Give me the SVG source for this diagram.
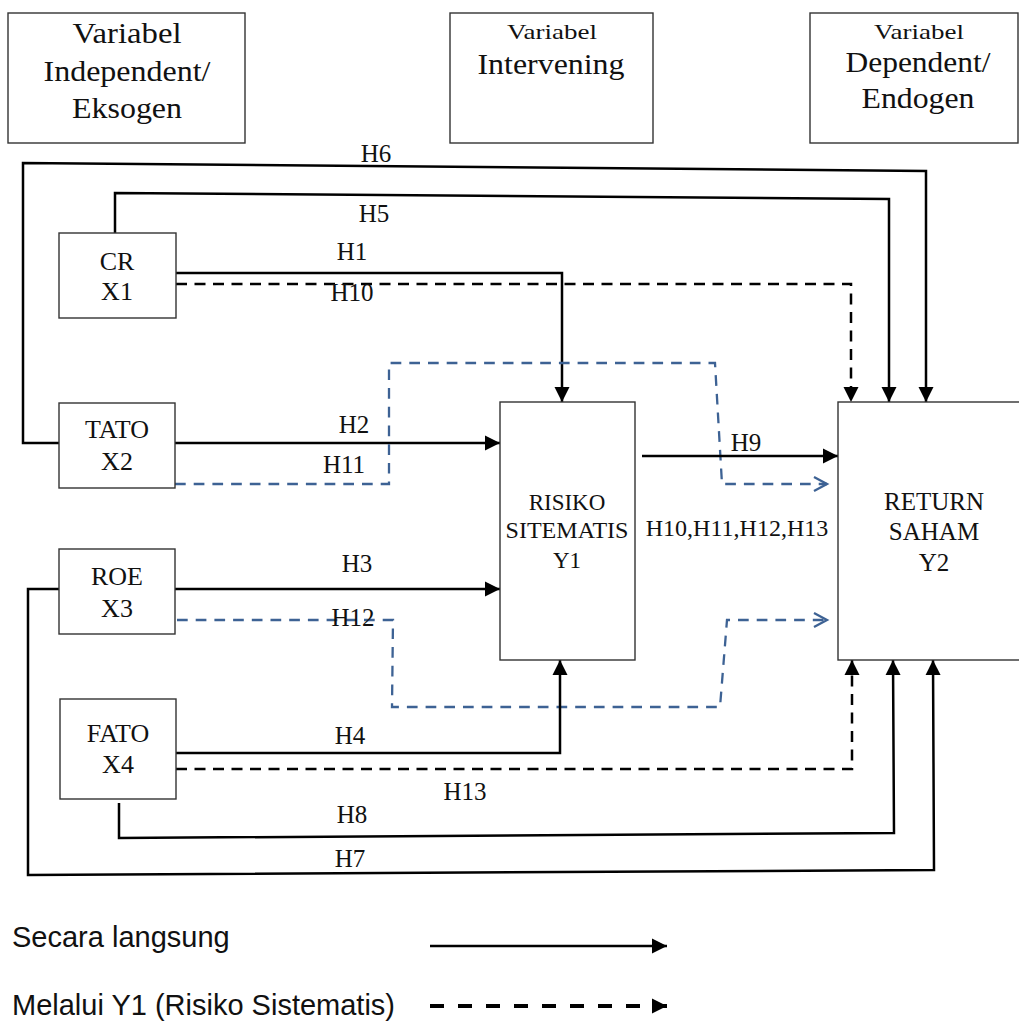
<svg xmlns="http://www.w3.org/2000/svg" width="1019" height="1021" viewBox="0 0 1019 1021">
<style>
.box{fill:#fff;stroke:#333;stroke-width:1.4}
.t{font-family:"Liberation Serif","Times New Roman",serif;fill:#111;text-anchor:middle}
.big{font-size:29px}
.sm{font-size:22px}
.y1{font-size:23px}
.nd{font-size:26px}
.lb{font-size:25px}
.hl{font-size:24px}
.ln{fill:none;stroke:#000;stroke-width:2.5;stroke-linejoin:miter}
.dk{stroke-dasharray:11 7.5}
.bl{fill:none;stroke:#3d6294;stroke-width:2.3;stroke-dasharray:10.7 8}
.lg{font-family:"Liberation Sans",Arial,sans-serif;font-size:29px;fill:#111}
</style>
<defs>
<marker id="ah" markerUnits="userSpaceOnUse" markerWidth="18" markerHeight="18" viewBox="0 0 18 18" refX="16" refY="9" orient="auto">
<path d="M1,1.5 L16,9 L1,16.5 z" fill="#000"/>
</marker>
<marker id="oa" markerUnits="userSpaceOnUse" markerWidth="18" markerHeight="18" viewBox="0 0 18 18" refX="15" refY="9" orient="auto">
<path d="M2,2 L15,9 L2,16" fill="none" stroke="#3d6294" stroke-width="2.3"/>
</marker>
</defs>
<rect width="1019" height="1021" fill="#fff"/>

<g id="hdr-independent">
<rect class="box" x="8" y="13" width="237" height="130"/>
<text class="t big" x="127" y="43" textLength="109" lengthAdjust="spacingAndGlyphs">Variabel</text>
<text class="t big" x="127" y="81" textLength="167" lengthAdjust="spacingAndGlyphs">Independent/</text>
<text class="t big" x="127" y="118" textLength="110" lengthAdjust="spacingAndGlyphs">Eksogen</text>
</g>
<g id="hdr-intervening">
<rect class="box" x="450" y="13" width="203" height="130"/>
<text class="t sm" x="552" y="39" textLength="90" lengthAdjust="spacingAndGlyphs">Variabel</text>
<text class="t big" x="551" y="74" textLength="147" lengthAdjust="spacingAndGlyphs">Intervening</text>
</g>
<g id="hdr-dependent">
<rect class="box" x="810" y="13" width="208" height="130"/>
<text class="t sm" x="919" y="39" textLength="90" lengthAdjust="spacingAndGlyphs">Variabel</text>
<text class="t big" x="918" y="72" textLength="145" lengthAdjust="spacingAndGlyphs">Dependent/</text>
<text class="t big" x="918" y="108" textLength="113" lengthAdjust="spacingAndGlyphs">Endogen</text>
</g>

<g id="connectors">
<path class="ln" d="M59,443 L23,443 L23,163 L926,171 L926,402" marker-end="url(#ah)"/>
<path class="ln" d="M115,233 L115,193 L889,199 L889,402" marker-end="url(#ah)"/>
<path class="ln" d="M176,273 L562,273 L562,402" marker-end="url(#ah)"/>
<path class="ln dk" d="M176,284 L851,284 L851,402" marker-end="url(#ah)"/>
<path class="ln" d="M175,443 L500,443" marker-end="url(#ah)"/>
<path class="bl" d="M175,484 L389,484 L389,363 L715,363 L722,484 L827,484" marker-end="url(#oa)"/>
<path class="ln" d="M642,456 L838,456" marker-end="url(#ah)"/>
<path class="ln" d="M175,589 L500,589" marker-end="url(#ah)"/>
<path class="bl" d="M177,620 L393,620 L392,707 L720,707 L727,620 L827,620" marker-end="url(#oa)"/>
<path class="ln" d="M176,753 L560,753 L560,660" marker-end="url(#ah)"/>
<path class="ln dk" d="M176,769 L852,769 L852,660" marker-end="url(#ah)"/>
<path class="ln" d="M119,803 L119,838 L894,833 L893,660" marker-end="url(#ah)"/>
<path class="ln" d="M59,589 L28,589 L28,875 L934,870 L933,660" marker-end="url(#ah)"/>
<g id="labels">
<text class="t lb" x="376" y="162">H6</text>
<text class="t lb" x="374" y="222">H5</text>
<text class="t lb" x="352" y="260">H1</text>
<text class="t lb" x="352" y="301">H10</text>
<text class="t lb" x="354" y="433">H2</text>
<text class="t lb" x="344" y="473">H11</text>
<text class="t lb" x="746" y="451">H9</text>
<text class="t hl" x="737" y="536">H10,H11,H12,H13</text>
<text class="t lb" x="357" y="572">H3</text>
<text class="t lb" x="353" y="626">H12</text>
<text class="t lb" x="350" y="744">H4</text>
<text class="t lb" x="465" y="800">H13</text>
<text class="t lb" x="352" y="823">H8</text>
<text class="t lb" x="350" y="867">H7</text>
</g>
</g>

<g id="node-cr">
<rect class="box" x="59" y="233" width="117" height="85"/>
<text class="t nd" x="117" y="270">CR</text>
<text class="t nd" x="117" y="300">X1</text>
</g>
<g id="node-tato">
<rect class="box" x="59" y="403" width="116" height="85"/>
<text class="t nd" x="117" y="438">TATO</text>
<text class="t nd" x="117" y="470">X2</text>
</g>
<g id="node-roe">
<rect class="box" x="59" y="549" width="116" height="85"/>
<text class="t nd" x="117" y="585">ROE</text>
<text class="t nd" x="117" y="617">X3</text>
</g>
<g id="node-fato">
<rect class="box" x="60" y="699" width="116" height="100"/>
<text class="t nd" x="118" y="742">FATO</text>
<text class="t nd" x="118" y="773">X4</text>
</g>
<g id="node-y1">
<rect class="box" x="500" y="402" width="135" height="258"/>
<text class="t y1" x="567" y="510">RISIKO</text>
<text class="t y1" x="567" y="538" textLength="123" lengthAdjust="spacingAndGlyphs">SITEMATIS</text>
<text class="t y1" x="567" y="568">Y1</text>
</g>
<g id="node-y2">
<rect class="box" x="838" y="402" width="190" height="258"/>
<text class="t lb" x="934" y="510">RETURN</text>
<text class="t lb" x="934" y="540">SAHAM</text>
<text class="t lb" x="934" y="571">Y2</text>
</g>

<g id="legend">
<text class="lg" x="12" y="947">Secara langsung</text>
<text class="lg" x="12" y="1015">Melalui Y1 (Risiko Sistematis)</text>
<path d="M430,946 L667,946" stroke="#000" stroke-width="2.5" fill="none" marker-end="url(#ah)"/>
<path d="M430,1006 L667,1006" stroke="#000" stroke-width="4" stroke-dasharray="14 14" fill="none" marker-end="url(#ah)"/>
</g>
</svg>
